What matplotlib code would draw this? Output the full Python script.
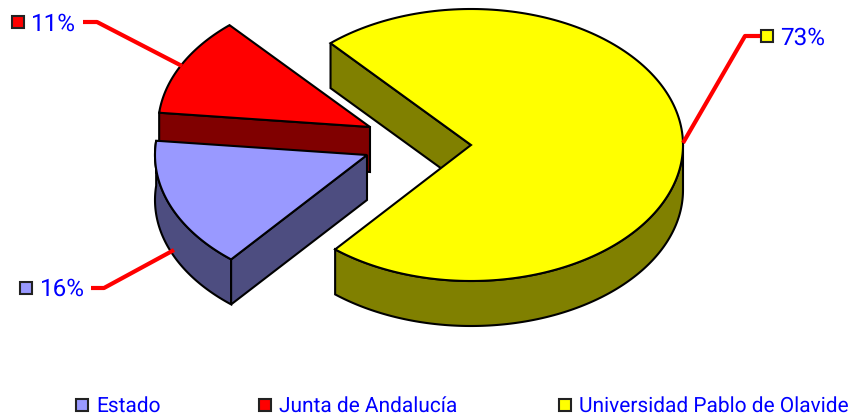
import numpy as np
import matplotlib
matplotlib.use('Agg')
import matplotlib.pyplot as plt
from matplotlib.patches import Polygon, Rectangle

categorias = ['Universidad Pablo de Olavide', 'Junta de Andalucía', 'Estado']
valores = [72.6, 11.8, 15.6]
etiquetas = ['73%', '11%', '16%']
colores = ['#ffff00', '#ff0000', '#9999ff']
colores_lado = ['#808000', '#800000', '#4d4d80']

RX, RY, PROF = 212, 136, 45
INICIO = 131.5
centros = [(471, 145), (370, 127), (367, 155)]


def arco(c, a0, a1):
    t = np.radians(np.linspace(a0, a1, 200))
    return np.column_stack([c[0] + RX*np.cos(t), c[1] - RY*np.sin(t)])


def dibuja_lado(ax, pts, color, z):
    ax.add_patch(Polygon(pts, closed=True, fc=color, ec='black', lw=1.5, zorder=z))


plt.rcParams['font.family'] = ['Roboto', 'DejaVu Sans']
plt.rcParams['text.hinting'] = 'none'
fig = plt.figure(figsize=(8.58, 4.19), dpi=100)
ax = fig.add_axes([0, 0, 1, 1])
ax.set_xlim(0, 858)
ax.set_ylim(419, 0)
ax.axis('off')

# angulos de cada sector a partir de los valores
total = sum(valores)
angulos = [(INICIO - 360*valores[0]/total, INICIO)]
a = INICIO
for v in valores[1:]:
    angulos.append((a, a + 360*v/total))
    a = a + 360*v/total

zs = [2, 3, 5]
for i in range(3):
    c = centros[i]
    a0, a1 = angulos[i]
    z = zs[i]
    # pared exterior, solo lo visible
    if i == 0:
        ap = arco(c, a0, 0)
    else:
        ap = arco(c, a0, a1)
    if i != 1:
        lado = np.vstack([ap, (ap + [0, PROF])[::-1]])
        dibuja_lado(ax, lado, colores_lado[i], z)
    # pared de corte
    p = arco(c, a1, a1)[0]
    dibuja_lado(ax, [p, p + [0, PROF], (c[0], c[1]+PROF), c], colores_lado[i], z)
    # cara superior
    sup = np.vstack([[c], arco(c, a0, a1)])
    ax.add_patch(Polygon(sup, closed=True, fc=colores[i], ec='black', lw=1.5, zorder=z + 0.5))

# lineas guia y etiquetas
guias = [[(683, 143), (745, 36), (760, 36)],
         [(182, 66), (97, 22), (83, 22)],
         [(174, 250), (104, 288), (91, 288)]]
cajas = [(761, 30), (12, 16), (20, 282)]
textos = [(780, 38), (31, 24), (40, 289)]
for i in range(3):
    xs, ys = zip(*guias[i])
    ax.plot(xs, ys, color='#ff0000', lw=3, zorder=6, solid_capstyle='butt')
    ax.add_patch(Rectangle(cajas[i], 12, 12, fc=colores[i], ec='#222222', lw=1.5, zorder=7))
    ax.text(textos[i][0], textos[i][1], etiquetas[i], color='#0000ff', fontsize=17.5, va='center', ha='left')

# leyenda
ley_x = [559, 259, 76]
for i, nombre in enumerate(categorias):
    x = ley_x[i]
    ax.add_patch(Rectangle((x, 399), 12, 12, fc=colores[i], ec='#222222', lw=1.5))
    ax.text(x + 20, 406, nombre, color='#0000ff', fontsize=15, va='center', ha='left')

fig.savefig('out.png', dpi=100)
